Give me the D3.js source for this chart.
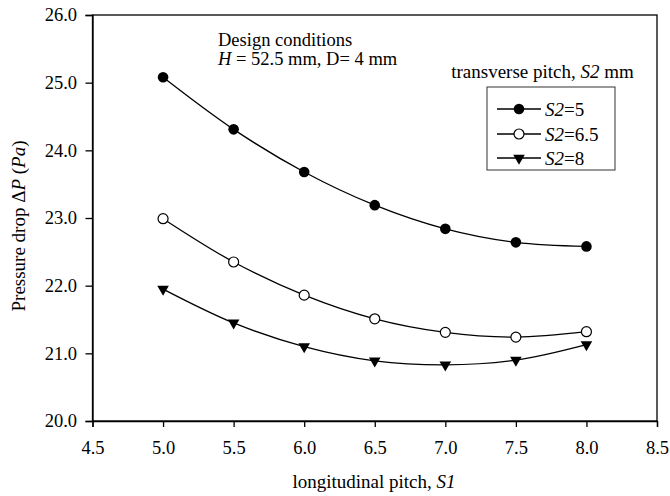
<!DOCTYPE html>
<html>
<head>
<meta charset="utf-8">
<script src="https://cdn.jsdelivr.net/npm/d3@7"></script>
<style>
  html, body { margin: 0; padding: 0; background: #fff; }
</style>
</head>
<body>
<svg id="chart" width="670" height="496" font-family="Liberation Serif"></svg>
<script>
// Longitudinal pitch S1 (mm)
const pitchS1 = [5.0, 5.5, 6.0, 6.5, 7.0, 7.5, 8.0];
// Pressure drop (Pa) for each transverse pitch S2
const dpS2_5   = [25.08, 24.31, 23.68, 23.19, 22.84, 22.64, 22.58];
const dpS2_6_5 = [22.99, 22.35, 21.86, 21.51, 21.31, 21.24, 21.32];
const dpS2_8   = [21.95, 21.45, 21.10, 20.89, 20.83, 20.90, 21.13];
const seriesNames = ["5", "6.5", "8"];
const xTicks = [4.5, 5.0, 5.5, 6.0, 6.5, 7.0, 7.5, 8.0, 8.5];
const yTicks = [20, 21, 22, 23, 24, 25, 26];

const FONT = "'Liberation Serif', 'Times New Roman', serif";
const FS = "19px";
const svg = d3.select("#chart");
const m = { left: 92.5, right: 657, top: 15, bottom: 421 };

const x = d3.scaleLinear().domain([4.5, 8.5]).range([m.left, m.right]);
const y = d3.scaleLinear().domain([20, 26]).range([m.bottom, m.top]);

// frame
svg.append("rect")
  .attr("x", m.left).attr("y", m.top)
  .attr("width", m.right - m.left).attr("height", m.bottom - m.top)
  .attr("fill", "none").attr("stroke", "#000").attr("stroke-width", 1.3);

// axes
const xAxis = svg.append("g").attr("transform", `translate(0,${m.bottom})`)
  .call(d3.axisBottom(x).tickValues(xTicks).tickFormat(d3.format(".1f")).tickSizeOuter(0).tickSize(6).tickPadding(14));
const yAxis = svg.append("g").attr("transform", `translate(${m.left},0)`)
  .call(d3.axisLeft(y).tickValues(yTicks).tickFormat(d3.format(".1f")).tickSizeOuter(0).tickSize(7).tickPadding(8.5));
[xAxis, yAxis].forEach(g => {
  g.attr("font-family", null).attr("font-size", null);
  g.select(".domain").attr("stroke", "#000").attr("stroke-width", 1.3);
  g.selectAll(".tick line").attr("stroke", "#000").attr("stroke-width", 1.3);
  g.selectAll(".tick text").attr("fill", "#000").style("font-size", "18.5px");
});

// axis titles
const xt = svg.append("text").attr("x", 374).attr("y", 488).attr("text-anchor", "middle").style("font-size", FS);
xt.append("tspan").text("longitudinal pitch, ");
xt.append("tspan").attr("font-style", "italic").text("S1");

const yt = svg.append("text").attr("transform", "translate(25,226) rotate(-90)").attr("text-anchor", "middle").style("font-size", FS);
yt.append("tspan").text("Pressure drop Δ");
yt.append("tspan").attr("font-style", "italic").text("P");
yt.append("tspan").text(" (");
yt.append("tspan").attr("font-style", "italic").text("Pa");
yt.append("tspan").text(")");

// curves
const allSeries = [dpS2_5, dpS2_6_5, dpS2_8];
const line = d3.line().x((d, i) => x(pitchS1[i])).y(d => y(d)).curve(d3.curveCatmullRom.alpha(0.5));
allSeries.forEach(vals => {
  svg.append("path").attr("d", line(vals)).attr("fill", "none").attr("stroke", "#000").attr("stroke-width", 1.3);
});

const tri = d3.symbol().type(d3.symbolTriangle).size(58);
function marker(g, k, cx, cy) {
  if (k === 0) {
    g.append("circle").attr("cx", cx).attr("cy", cy).attr("r", 5.3).attr("fill", "#000");
  } else if (k === 1) {
    g.append("circle").attr("cx", cx).attr("cy", cy).attr("r", 5.0).attr("fill", "#fff").attr("stroke", "#000").attr("stroke-width", 1.2);
  } else {
    g.append("path").attr("d", tri()).attr("transform", `translate(${cx},${cy}) rotate(180)`).attr("fill", "#000");
  }
}
allSeries.forEach((vals, k) => {
  const g = svg.append("g");
  vals.forEach((v, i) => marker(g, k, x(pitchS1[i]), y(v)));
});

// annotation
svg.append("text").attr("x", 218).attr("y", 46).style("font-size", "18.5px").text("Design conditions");
const ann = svg.append("text").attr("x", 218).attr("y", 65).style("font-size", "18.5px");
ann.append("tspan").attr("font-style", "italic").text("H");
ann.append("tspan").text(" = 52.5 mm, D= 4 mm");

// legend
const lt = svg.append("text").attr("x", 542.5).attr("y", 78).attr("text-anchor", "middle").style("font-size", FS);
lt.append("tspan").text("transverse pitch, ");
lt.append("tspan").attr("font-style", "italic").text("S2");
lt.append("tspan").text(" mm");

svg.append("rect").attr("x", 487).attr("y", 87).attr("width", 128).attr("height", 83)
  .attr("fill", "#fff").attr("stroke", "#333").attr("stroke-width", 1);

const rowY = [109, 134, 158];
const lg = svg.append("g");
seriesNames.forEach((name, k) => {
  const yy = rowY[k];
  lg.append("line").attr("x1", 497).attr("x2", 541).attr("y1", yy).attr("y2", yy).attr("stroke", "#000").attr("stroke-width", 1.3);
  marker(lg, k, 519, yy);
  const t = lg.append("text").attr("x", 545).attr("y", yy + 6.5).style("font-size", FS);
  t.append("tspan").attr("font-style", "italic").text("S2");
  t.append("tspan").text("=" + name);
});

// one serif face for every label
svg.selectAll("text").style("font-family", FONT).attr("fill", "#000");
</script>
</body>
</html>
